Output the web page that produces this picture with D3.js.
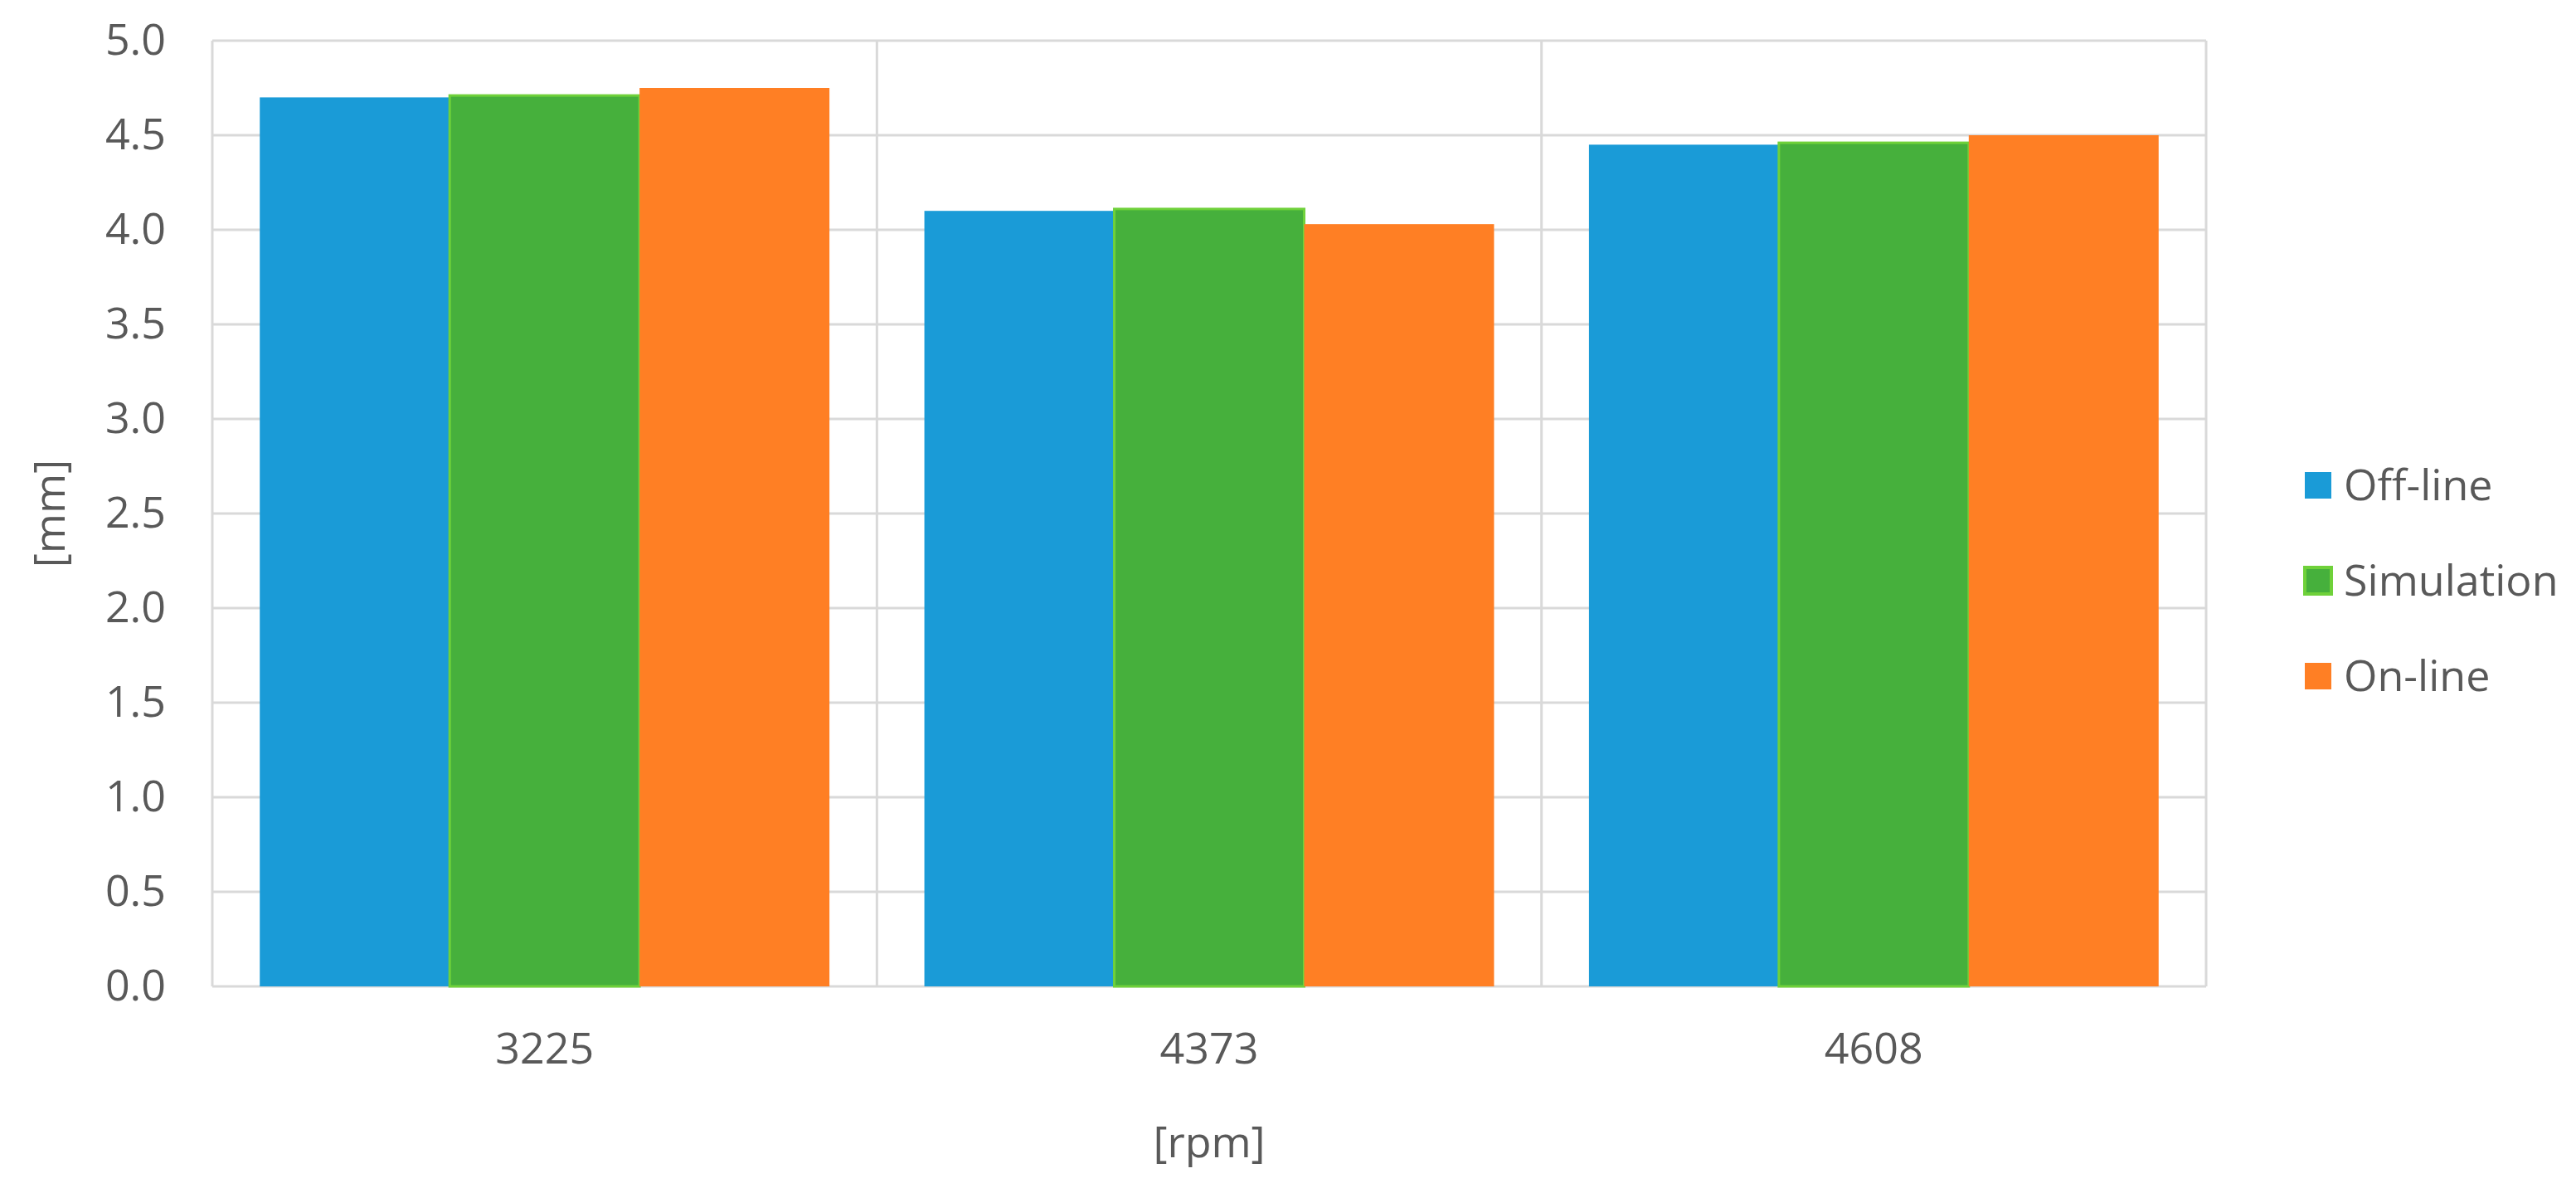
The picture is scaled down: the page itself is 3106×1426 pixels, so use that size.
<!DOCTYPE html>
<html><head><meta charset="utf-8">
<script src="https://cdn.jsdelivr.net/npm/d3@7/dist/d3.min.js"></script>
<style>body{margin:0;background:#fff}</style></head>
<body><svg id="c" width="3106" height="1426"></svg>
<script>
const categories = ["3225","4373","4608"];
const seriesNames = ["Off-line","Simulation","On-line"];
const offline = [4.70, 4.10, 4.45];
const simulation = [4.71, 4.11, 4.46];
const online = [4.75, 4.03, 4.50];
const yTicks = [0,0.5,1,1.5,2,2.5,3,3.5,4,4.5,5];
const values = [offline, simulation, online];
const fills = ["#1a9bd7","#46b03c","#ff7f24"];
const strokes = ["none","#6fd13a","none"];

const svg = d3.select("#c");
const L=256,R=2660,T=49,B=1189;
const font="'Open Sans', sans-serif", tc="#595959";
const x = d3.scaleBand().domain(categories).range([L,R]);
const xi = d3.scaleBand().domain(seriesNames).range([0,x.bandwidth()]).paddingInner(0).paddingOuter(0.25/0.5*0.5);
xi.paddingOuter(0.25);
const y = d3.scaleLinear().domain([0,5]).range([B,T]);

const g = svg.append("g");
g.selectAll(".h").data(yTicks).join("line").attr("x1",L).attr("x2",R)
 .attr("y1",d=>y(d)).attr("y2",d=>y(d)).attr("stroke","#d9d9d9").attr("stroke-width",3);
const vx = categories.map(c=>x(c)).concat([R]);
g.selectAll(".v").data(vx).join("line").attr("x1",d=>d).attr("x2",d=>d)
 .attr("y1",T).attr("y2",B).attr("stroke","#d9d9d9").attr("stroke-width",3);

seriesNames.forEach((s,si)=>{
  g.selectAll(".b"+si).data(categories).join("rect")
   .attr("x",c=>x(c)+xi(s)).attr("width",xi.bandwidth())
   .attr("y",(c,i)=>y(values[si][i])).attr("height",(c,i)=>B-y(values[si][i]))
   .attr("fill",fills[si]).attr("stroke",strokes[si]).attr("stroke-width",3);
});

const ya = svg.append("g").attr("transform",`translate(${L},0)`)
 .call(d3.axisLeft(y).tickValues(yTicks).tickFormat(d3.format(".1f")).tickSize(0).tickPadding(56));
ya.select(".domain").remove();
ya.selectAll("text").attr("font-family",font).attr("font-size",52).attr("fill",tc);

const xa = svg.append("g").attr("transform",`translate(0,${B})`)
 .call(d3.axisBottom(x).tickSize(0).tickPadding(56));
xa.select(".domain").remove();
xa.selectAll("text").attr("font-family",font).attr("font-size",52).attr("fill",tc);

svg.append("text").attr("x",1458).attr("y",1395).attr("text-anchor","middle")
 .attr("font-family",font).attr("font-size",52).attr("fill",tc).text("[rpm]");
svg.append("text").attr("transform","translate(78,619) rotate(-90)").attr("text-anchor","middle")
 .attr("font-family",font).attr("font-size",52).attr("fill",tc).text("[mm]");

const lg = svg.append("g");
seriesNames.forEach((s,i)=>{
  const cy = 585 + i*115;
  lg.append("rect").attr("x",2779).attr("y",cy-16).attr("width",32).attr("height",32)
   .attr("fill",fills[i]).attr("stroke",strokes[i]).attr("stroke-width",4);
  lg.append("text").attr("x",2826).attr("y",cy).attr("dy","0.35em")
   .attr("font-family",font).attr("font-size",52).attr("fill",tc).text(s);
});
</script></body></html>
